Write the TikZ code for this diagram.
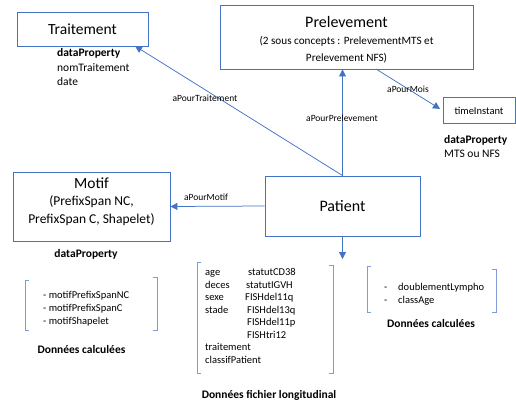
\documentclass[tikz,border=0pt]{standalone}
\usepackage{fontspec}
\setmainfont{Carlito}
\usetikzlibrary{arrows.meta}
\definecolor{lineblue}{HTML}{4472C4}
\definecolor{brackblue}{HTML}{7F9CD6}

\begin{document}
\begin{tikzpicture}[x=1pt, y=-1pt,
        concept/.style={draw=lineblue, line width=0.9pt, inner sep=0pt, align=center},
        conceptText/.style={inner sep=0pt, align=center},
        rel/.style={draw=lineblue, line width=0.75pt, -{Triangle[length=7pt,width=7pt]}},
        relLabel/.style={font=\fontsize{9.5}{12}\selectfont, inner sep=0pt},
        prop/.style={font=\fontsize{11.5}{14}\selectfont, inner sep=0pt, anchor=west, text height=7.5pt, text depth=0pt},
        item/.style={font=\fontsize{10.5}{12}\selectfont, inner sep=0pt, anchor=west, text height=7pt, text depth=0pt},
        heading/.style={font=\fontsize{11.5}{14}\selectfont\bfseries, inner sep=0pt, text height=7.5pt, text depth=0pt},
        bracket/.style={draw=brackblue, line width=0.8pt}]
        \useasboundingbox (0,0) rectangle (516,405);

        \node[concept, minimum width=131pt, minimum height=34pt, font=\fontsize{15.5}{18}\selectfont] (nTraitement) at (82.5,29) {Traitement};
        \node[concept, minimum width=253pt, minimum height=64pt] (nPrelevement) at (346.5,37) {};
        \node[conceptText, font=\fontsize{11.2}{17}\selectfont] (nPrelevementTxt) at (346.5,40) {{\fontsize{16}{19}\selectfont Prelevement}\\(2 sous concepts : PrelevementMTS et\\Prelevement NFS)};
        \node[concept, minimum width=157pt, minimum height=69pt] (nMotif) at (91.5,206.5) {};
        \node[conceptText, font=\fontsize{13.5}{17.5}\selectfont] (nMotifTxt) at (91.5,201.5) {{\fontsize{15.5}{19}\selectfont Motif}\\(PrefixSpan NC,\\PrefixSpan C, Shapelet)};
        \node[concept, minimum width=155pt, minimum height=60pt, font=\fontsize{16}{19}\selectfont] (nPatient) at (342.5,206) {Patient};
        \node[concept, minimum width=72pt, minimum height=26pt, font=\fontsize{10.5}{12}\selectfont] (nTime) at (479,110.5) {timeInstant};

        \coordinate (cTraitPt) at (135,46);
        \coordinate (cMoisPt) at (376,69);
        \coordinate (cAttrPt) at (342.5,259);

        \draw[rel] (nPatient.north) -- (cTraitPt);
        \draw[rel] (nPatient.north) -- (nPatient.north |- nPrelevement.south);
        \draw[rel, shorten >=3pt] (cMoisPt) -- (nTime.west);
        \draw[rel] (nPatient.west) -- (nMotif.east);
        \draw[rel] (nPatient.south) -- (cAttrPt);

        \node[relLabel] (lTraitement) at (205,98) {aPourTraitement};
        \node[relLabel] (lPrelevement) at (342,118) {aPourPrelevement};
        \node[relLabel] (lMois) at (408,89) {aPourMois};
        \node[relLabel] (lMotif) at (206,197) {aPourMotif};

        % dataProperty
        \foreach \y/\t [count=\i] in {53/\textbf{dataProperty}, 67.5/nomTraitement, 81.5/date}
        {
            \node[prop] (pTraitement\i) at (57,\y) {\t};
        };
        \foreach \y/\t [count=\i] in {140/\textbf{dataProperty}, 154/MTS ou NFS}
        {
            \node[prop] (pTime\i) at (444,\y) {\t};
        };
        \node[heading] (pMotif) at (86,254) {dataProperty};

        % Donnees calculees (Motif)
        \draw[bracket] (29,280) -- (25,280) -- (25,330) -- (29,330);
        \draw[bracket] (153,277) -- (157,277) -- (157,330) -- (153,330);
        \foreach \y/\t [count=\i] in {295/motifPrefixSpanNC, 308/motifPrefixSpanC, 320.5/motifShapelet}
        {
            \node[item] (mCalc\i) at (43,\y) {- \t};
        };
        \node[heading] (hMotifCalc) at (81.5,350) {Données calculées};

        % Donnees fichier longitudinal
        \draw[bracket] (201,262) -- (197,262) -- (197,373) -- (201,373);
        \draw[bracket] (329,265) -- (333,265) -- (333,373) -- (329,373);
        \foreach \y/\t [count=\i] in {272/age, 284.5/deces, 297/sexe, 309.5/stade, 347/traitement, 359.5/classifPatient}
        {
            \node[item] (aLeft\i) at (205,\y) {\t};
        };
        \foreach \x/\y/\t [count=\i] in {248/272/statutCD38, 246/284.5/statutIGVH, 245/297/FISHdel11q,
            247/309.5/FISHdel13q, 247/322/FISHdel11p, 247/334.5/FISHtri12}
        {
            \node[item] (aRight\i) at (\x,\y) {\t};
        };
        \node[heading] (hLongi) at (269,395) {Données fichier longitudinal};

        % Donnees calculees (Patient)
        \draw[bracket] (371,266) -- (367,266) -- (367,312) -- (371,312);
        \draw[bracket] (492,269) -- (496,269) -- (496,312) -- (492,312);
        \foreach \y/\t [count=\i] in {287/doublementLympho, 300/classAge}
        {
            \node[item] (pDash\i) at (384,\y) {-};
            \node[item] (pCalc\i) at (398,\y) {\t};
        };
        \node[heading] (hPatientCalc) at (431,324) {Données calculées};

\end{tikzpicture}
\end{document}
